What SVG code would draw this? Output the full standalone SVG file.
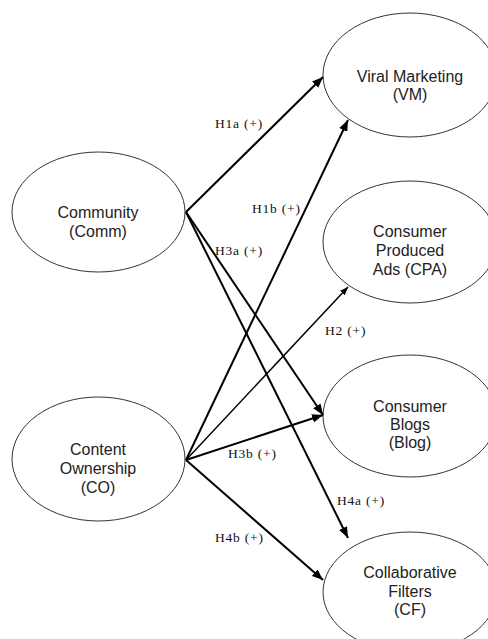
<svg xmlns="http://www.w3.org/2000/svg" width="488" height="639" viewBox="0 0 488 639">
<style>
.node ellipse{fill:#fff;stroke:#333;stroke-width:1}
.node text{font-family:"Liberation Sans",Arial,sans-serif;font-size:16px;fill:#222;text-anchor:middle}
.edges line{stroke:#000;stroke-width:2;fill:none}
.lbl{font-family:"Liberation Serif","Times New Roman",serif;font-size:13.5px;fill:#111;letter-spacing:0.8px}
</style>
<defs>
<marker id="ah" viewBox="0 0 10 8" refX="10" refY="4" markerWidth="5.5" markerHeight="4.5" orient="auto" markerUnits="strokeWidth">
<path d="M0,0 L10,4 L0,8 z" fill="#000"/>
</marker>
</defs>
<rect width="488" height="639" fill="#fff"/>
<g id="comm" class="node">
<ellipse cx="98.5" cy="212" rx="86.5" ry="60"/>
<text x="98" y="218">Community</text>
<text x="98" y="237">(Comm)</text>
</g>
<g id="co" class="node">
<ellipse cx="98.5" cy="459" rx="86.5" ry="62"/>
<text x="98" y="455">Content</text>
<text x="98" y="474">Ownership</text>
<text x="98" y="493">(CO)</text>
</g>
<g id="vm" class="node">
<ellipse cx="410" cy="75" rx="87" ry="62"/>
<text x="410" y="82">Viral Marketing</text>
<text x="410" y="100">(VM)</text>
</g>
<g id="cpa" class="node">
<ellipse cx="410" cy="242" rx="87" ry="61"/>
<text x="410" y="237">Consumer</text>
<text x="410" y="256">Produced</text>
<text x="410" y="275">Ads (CPA)</text>
</g>
<g id="blog" class="node">
<ellipse cx="410" cy="416" rx="87" ry="61"/>
<text x="410" y="412">Consumer</text>
<text x="410" y="430">Blogs</text>
<text x="410" y="448">(Blog)</text>
</g>
<g id="cf" class="node">
<ellipse cx="410" cy="592" rx="87" ry="60"/>
<text x="410" y="578">Collaborative</text>
<text x="410" y="597">Filters</text>
<text x="410" y="615">(CF)</text>
</g>
<g id="connectors" class="edges">
<line x1="186" y1="212" x2="323" y2="77" marker-end="url(#ah)"/>
<line x1="186" y1="212" x2="323" y2="415" marker-end="url(#ah)"/>
<line x1="186" y1="212" x2="348" y2="538" marker-end="url(#ah)"/>
<line x1="186" y1="460" x2="348" y2="120" marker-end="url(#ah)"/>
<line x1="186" y1="460" x2="348" y2="287" marker-end="url(#ah)" style="stroke-width:1.5"/>
<line x1="186" y1="460" x2="323" y2="415" marker-end="url(#ah)"/>
<line x1="186" y1="460" x2="323" y2="580" marker-end="url(#ah)"/>
</g>
<g id="labels">
<text class="lbl" x="215" y="128">H1a (+)</text>
<text class="lbl" x="252" y="213">H1b (+)</text>
<text class="lbl" x="215" y="255">H3a (+)</text>
<text class="lbl" x="325" y="335">H2 (+)</text>
<text class="lbl" x="228" y="458">H3b (+)</text>
<text class="lbl" x="337" y="505">H4a (+)</text>
<text class="lbl" x="215" y="542">H4b (+)</text>
</g>
</svg>
